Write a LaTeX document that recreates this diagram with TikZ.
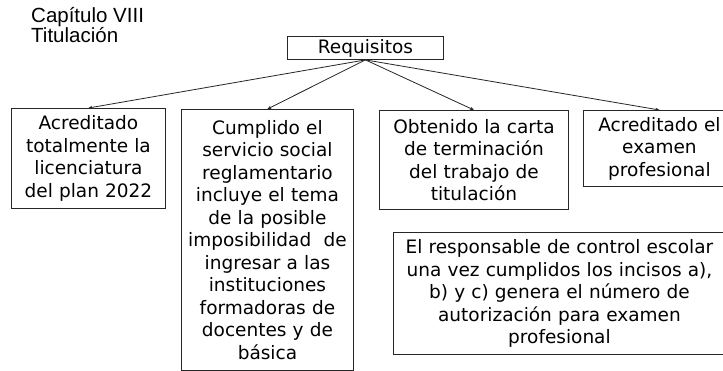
\documentclass[tikz,border=0pt]{standalone}
\usepackage{fontspec}
\setmainfont{DejaVu Sans}
\newfontfamily\titlefont{Liberation Sans}
\usetikzlibrary{arrows.meta}
\tikzset{
  box/.style={draw=black!85, line width=0.9pt, inner sep=0pt, align=center,
    anchor=north west, font=\fontsize{18.5}{22.5}\selectfont},
  conn/.style={draw=black!85, line width=0.8pt, -{Stealth[length=4pt,width=3.2pt]}}
}
\begin{document}
\begin{tikzpicture}[x=1pt,y=-1pt]
\clip (0,0) rectangle (723,371);
\fill[white] (0,0) rectangle (723,371);
\node[anchor=north west, inner sep=0pt, align=left, font=\titlefont\fontsize{20.5}{20.5}\selectfont] (title) at (31,7) {Capítulo VIII\\Titulación};
\node[box, minimum width=156pt, minimum height=23pt] (req) at (287,36) {Requisitos};
\node[box, minimum width=154pt, minimum height=100pt, text width=154pt] (b1) at (11,108) {Acreditado\\totalmente la\\licenciatura\\del plan 2022};
\node[box, minimum width=172pt, minimum height=260.5pt, text width=172pt] (b2) at (181,109) {Cumplido el\\servicio social\\reglamentario\\incluye el tema\\de la posible\\imposibilidad\ \ de\\ingresar a las\\instituciones\\formadoras de\\docentes y de\\básica};
\node[box, minimum width=189pt, minimum height=99pt, text width=189pt] (b3) at (379,110) {Obtenido la carta\\de terminación\\del trabajo de\\titulación};
\node[box, minimum width=152pt, minimum height=76pt, text width=152pt] (b4) at (583,110) {Acreditado el\\examen\\profesional};
\node[box, minimum width=332pt, minimum height=122pt, text width=332pt] (b5) at (393,232) {El responsable de control escolar\\una vez cumplidos los incisos a),\\b) y c) genera el número de\\autorización para examen\\profesional};
\draw[conn] (req.south) -- (b1.north);
\draw[conn] (req.south) -- (b2.north);
\draw[conn] (req.south) -- (b3.north);
\draw[conn] (req.south) -- (b4.north);
\end{tikzpicture}
\end{document}
